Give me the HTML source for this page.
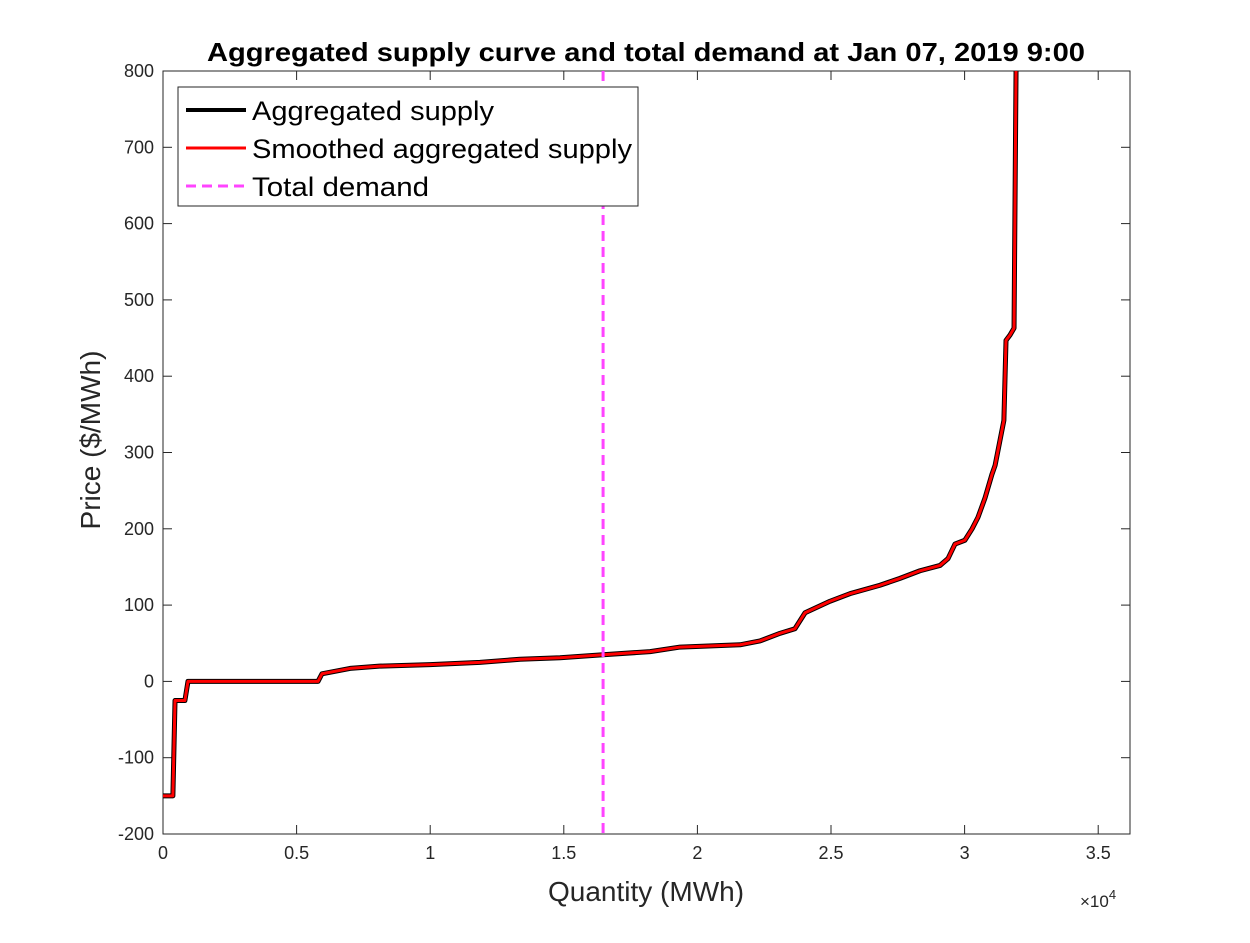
<!DOCTYPE html>
<html><head><meta charset="utf-8"><style>
body{margin:0;background:#fff;font-family:"Liberation Sans",sans-serif}
</style></head><body>
<svg width="1250" height="938" xmlns="http://www.w3.org/2000/svg" font-family="Liberation Sans, sans-serif">
<rect width="1250" height="938" fill="#fff"/>
<g id="axes"></g>
<g id="plot"></g>
<text x="646" y="61" text-anchor="middle" font-size="26" font-weight="bold" textLength="878" lengthAdjust="spacingAndGlyphs">Aggregated supply curve and total demand at Jan 07, 2019 9:00</text>
<text x="646" y="901" text-anchor="middle" font-size="28" fill="#262626">Quantity (MWh)</text>
<text transform="translate(100,440) rotate(-90)" text-anchor="middle" font-size="28" fill="#262626">Price ($/MWh)</text>
<text x="1080" y="907" font-size="17" fill="#262626">×10<tspan dy="-8" font-size="13">4</tspan></text>
<g>
<rect x="178" y="87" width="460" height="119" fill="#fff" stroke="#262626" stroke-width="1"/>
<line x1="186" y1="110" x2="246" y2="110" stroke="#000" stroke-width="4"/>
<text x="252" y="120" font-size="27" fill="#000" textLength="242" lengthAdjust="spacingAndGlyphs">Aggregated supply</text>
<line x1="186" y1="148" x2="246" y2="148" stroke="#f00" stroke-width="3"/>
<text x="252" y="158" font-size="27" fill="#000" textLength="380" lengthAdjust="spacingAndGlyphs">Smoothed aggregated supply</text>
<line x1="186" y1="186" x2="246" y2="186" stroke="#f4f" stroke-width="3" stroke-dasharray="10,6"/>
<text x="252" y="196" font-size="27" fill="#000" textLength="177" lengthAdjust="spacingAndGlyphs">Total demand</text>
</g>
</svg>
<script>
const xTicks=[0,0.5,1,1.5,2,2.5,3,3.5];
const yTicks=[-200,-100,0,100,200,300,400,500,600,700,800];
const supplyQ=[0,370,450,820,935,5800,5950,7000,8100,10000,11860,13360,14860,16470,18230,19350,21600,22340,23090,23650,24030,24960,25710,26830,27580,28330,29080,29380,29640,30010,30280,30500,30760,31020,31140,31470,31550,31700,31850,31925];
const supplyP=[-150,-150,-25,-25,0,0,10,17,20,22,25,29,31,35,39,45,48,53,63,69,90,105,115,126,135,145,152,161,180,185,200,215,240,271,283,342,447,454,463,800];
const demandQ=16470;
const L=163,R=1130,T=71,B=834,XMAX=36190;
const X=v=>L+v/XMAX*(R-L), Y=v=>B-(v+200)/1000*(B-T);
const NS='http://www.w3.org/2000/svg';
function mk(p,t,a){const e=document.createElementNS(NS,t);for(const k in a)e.setAttribute(k,a[k]);p.appendChild(e);return e;}
const ax=document.getElementById('axes'),pl=document.getElementById('plot');
const box=mk(ax,'rect',{x:L,y:T,width:R-L,height:B-T,fill:'none',stroke:'#262626','stroke-width':1});


xTicks.forEach(t=>{const x=X(t*1e4);
mk(ax,'line',{x1:x,y1:B,x2:x,y2:B-9,stroke:'#262626'});mk(ax,'line',{x1:x,y1:T,x2:x,y2:T+9,stroke:'#262626'});
const tx=mk(ax,'text',{x:x,y:B+25,'text-anchor':'middle','font-size':18,fill:'#262626'});tx.textContent=t;

});
yTicks.forEach(t=>{const y=Y(t);
mk(ax,'line',{x1:L,y1:y,x2:L+9,y2:y,stroke:'#262626'});mk(ax,'line',{x1:R,y1:y,x2:R-9,y2:y,stroke:'#262626'});
const tx=mk(ax,'text',{x:L-9,y:y+6,'text-anchor':'end','font-size':18,fill:'#262626'});tx.textContent=t;

});
const pts=supplyQ.map((q,i)=>X(q)+','+Y(supplyP[i])).join(' ');
const s1=mk(pl,'polyline',{points:pts,fill:'none',stroke:'#000','stroke-width':5,'stroke-linejoin':'round'});


const s2=mk(pl,'polyline',{points:pts,fill:'none',stroke:'#f00','stroke-width':3,'stroke-linejoin':'round'});


const d=mk(pl,'line',{x1:X(demandQ),y1:T,x2:X(demandQ),y2:B,stroke:'#f4f','stroke-width':3,'stroke-dasharray':'10,6'});


</script>
</body></html>
